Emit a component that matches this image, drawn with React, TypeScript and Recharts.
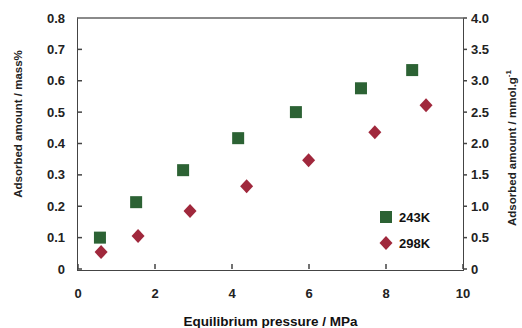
import { ScatterChart, Scatter, XAxis, YAxis, Label } from "recharts";

const pressure243 = [0.57, 1.51, 2.73, 4.16, 5.66, 7.35, 8.68];
const amount243 = [0.1, 0.213, 0.315, 0.417, 0.5, 0.576, 0.634];
const pressure298 = [0.6, 1.56, 2.91, 4.38, 5.99, 7.71, 9.04];
const amount298 = [0.054, 0.105, 0.185, 0.264, 0.347, 0.436, 0.522];

const xTicks = [0, 2, 4, 6, 8, 10];
const leftTicks = [0, 0.1, 0.2, 0.3, 0.4, 0.5, 0.6, 0.7, 0.8];
const rightTicks = [0, 0.5, 1, 1.5, 2, 2.5, 3, 3.5, 4];

const data243 = pressure243.map((p, i) => ({ p, v: amount243[i] }));
const data298 = pressure298.map((p, i) => ({ p, v: amount298[i] }));

const green = "#2c6234";
const red = "#a0283c";
const axisColor = "#444444";
const font = "'Liberation Sans', Arial, sans-serif";
const textStyle = { fontFamily: font, fontSize: 13, fontWeight: 700, fill: "#222222" };
const fmt = (v: number) => (v === 0 ? "0" : v.toFixed(1));

// chart box
const W = 522;
const H = 328;
const M = { top: 18, left: 78, right: 59, bottom: 59 };

function XTick(props: any) {
  const { x, y, payload } = props;
  return (
    <g>
      <rect x={x - 0.75} y={y - 5} width={1.5} height={5} fill={axisColor} />
      <text x={x} y={y + 29} textAnchor="middle" style={textStyle}>
        {payload.value}
      </text>
    </g>
  );
}

function LeftTick(props: any) {
  const { x, y, payload } = props;
  return (
    <g>
      <rect x={x} y={y - 0.75} width={4} height={1.5} fill={axisColor} />
      <text x={x - 13} y={y} textAnchor="end" dominantBaseline="central" style={textStyle}>
        {fmt(payload.value)}
      </text>
    </g>
  );
}

function RightTick(props: any) {
  const { x, y, payload } = props;
  return (
    <g>
      <rect x={x} y={y - 0.75} width={4} height={1.5} fill={axisColor} />
      <text x={x + 8} y={y} textAnchor="start" dominantBaseline="central" style={textStyle}>
        {fmt(payload.value)}
      </text>
    </g>
  );
}

function SquareDot(props: any) {
  const { cx, cy } = props;
  return <rect x={cx - 6} y={cy - 6} width={12} height={12} fill={green} />;
}

function DiamondDot(props: any) {
  const { cx, cy } = props;
  return <path d={`M${cx} ${cy - 7} L${cx + 6.5} ${cy} L${cx} ${cy + 7} L${cx - 6.5} ${cy} Z`} fill={red} />;
}

function LeftTitle() {
  return (
    <text
      x={18}
      y={124}
      transform="rotate(-90 18 124)"
      textAnchor="middle"
      dominantBaseline="central"
      style={{ fontFamily: font, fontSize: 11.5, fontWeight: 700, fill: "#222222" }}
    >
      Adsorbed amount / mass%
    </text>
  );
}

function RightTitle() {
  return (
    <text
      x={512}
      y={148}
      transform="rotate(-90 512 148)"
      textAnchor="middle"
      dominantBaseline="central"
      style={{ fontFamily: font, fontSize: 11.5, fontWeight: 700, fill: "#222222" }}
    >
      Adsorbed amount / mmol.g
      <tspan dy={-4} fontSize={8}>-1</tspan>
    </text>
  );
}

const legendItems = [
  { name: "243K", color: green, kind: "square" },
  { name: "298K", color: red, kind: "diamond" },
];

function ChartLegend() {
  return (
    <div style={{ position: "absolute", left: 379, top: 204, fontFamily: font, fontSize: 13, fontWeight: 700, color: "#111111" }}>
      {legendItems.map((it) => (
        <div key={it.name} style={{ display: "flex", alignItems: "center", height: 26 }}>
          <svg width={14} height={14} style={{ marginRight: 6 }}>
            {it.kind === "square" ? (
              <rect x={1} y={1} width={12} height={12} fill={it.color} />
            ) : (
              <path d="M7 0 L13.5 7 L7 14 L0.5 7 Z" fill={it.color} />
            )}
          </svg>
          <span>{it.name}</span>
        </div>
      ))}
    </div>
  );
}

export default function App() {
  return (
    <div style={{ position: "absolute", left: 0, top: 0, width: W, height: H, background: "#ffffff" }}>
      <ScatterChart width={W} height={H} margin={{ top: M.top, right: 0, bottom: 0, left: 0 }}>
        <XAxis
          type="number"
          dataKey="p"
          domain={[0, 10]}
          ticks={xTicks}
          height={M.bottom}
          tick={<XTick />}
          tickSize={0}
          tickMargin={0}
          axisLine={false}
          tickLine={false}
        >
          <Label
            value="Equilibrium pressure / MPa"
            position="insideBottom"
            offset={2}
            style={{ fontFamily: font, fontSize: 13.5, fontWeight: 700, fill: "#111111" }}
          />
        </XAxis>
        <YAxis
          yAxisId="left"
          type="number"
          dataKey="v"
          domain={[0, 0.8]}
          ticks={leftTicks}
          width={M.left}
          tick={<LeftTick />}
          tickSize={0}
          tickMargin={0}
          axisLine={false}
          tickLine={false}
        >
          <Label content={<LeftTitle />} />
        </YAxis>
        <YAxis
          yAxisId="right"
          orientation="right"
          type="number"
          dataKey="v"
          domain={[0, 4]}
          allowDataOverflow
          ticks={rightTicks}
          width={M.right}
          tick={<RightTick />}
          tickSize={0}
          tickMargin={0}
          axisLine={false}
          tickLine={false}
        >
          <Label content={<RightTitle />} />
        </YAxis>
        <Scatter name="243K" yAxisId="left" data={data243} shape={<SquareDot />} isAnimationActive={false} />
        <Scatter name="298K" yAxisId="left" data={data298} shape={<DiamondDot />} isAnimationActive={false} />
        <Scatter
          name="right axis"
          yAxisId="right"
          data={data243}
          fill="none"
          shape={() => <g />}
          isAnimationActive={false}
        />
      </ScatterChart>
      {/* plot frame */}
      <div
        style={{
          position: "absolute",
          left: M.left - 1,
          top: M.top - 1,
          width: W - M.left - M.right,
          height: H - M.top - M.bottom,
          borderLeft: `1.5px solid ${axisColor}`,
          borderRight: `1.5px solid ${axisColor}`,
          borderBottom: `1.5px solid ${axisColor}`,
          borderTop: "2.5px solid #8a8a8a",
          boxSizing: "content-box",
          pointerEvents: "none",
        }}
      />
      <ChartLegend />
    </div>
  );
}
